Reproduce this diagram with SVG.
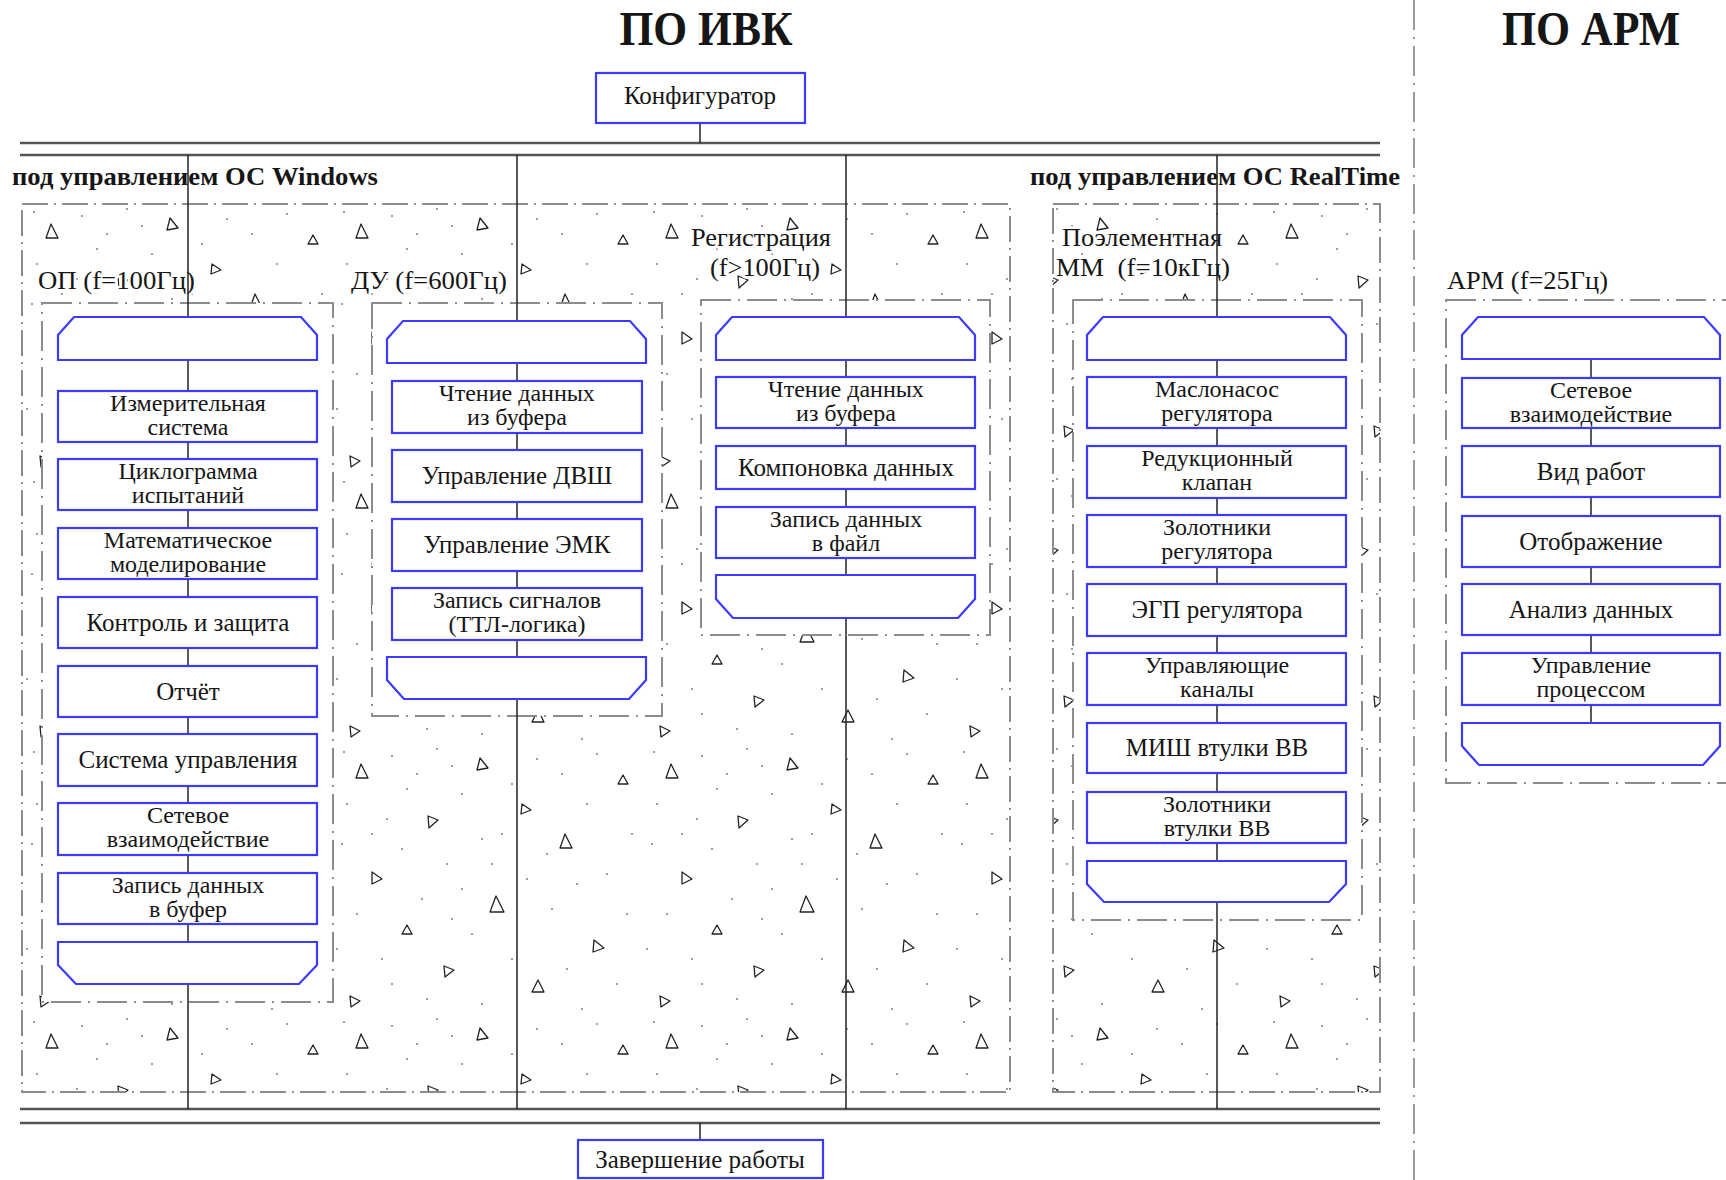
<svg xmlns="http://www.w3.org/2000/svg" width="1726" height="1180" viewBox="0 0 1726 1180">
<style>
  text { font-family: "Liberation Serif", "Times New Roman", serif; fill: #161616; }
  .lbl { font-size: 25px; text-anchor: middle; }
  .l2 { font-size: 24px; text-anchor: middle; }
  .grp { font-size: 25px; stroke: #ffffff; stroke-width: 5; paint-order: stroke; stroke-linejoin: round; }
  .os { font-size: 25px; font-weight: bold; }
  .title { font-size: 48px; font-weight: bold; text-anchor: middle; }
  .blk { fill: #ffffff; stroke: #3b3bff; stroke-width: 2.2; }
  .outer { fill: url(#concrete); stroke: #8c8c8c; stroke-width: 2; stroke-dasharray: 26 6 2 6; }
  .inner { fill: #ffffff; stroke: #8c8c8c; stroke-width: 2; stroke-dasharray: 30 7 2 7; }
  .sep { fill: none; stroke: #9a9a9a; stroke-width: 2; stroke-dasharray: 30 7 2 7; }
  .bus { stroke: #555555; stroke-width: 2.6; fill: none; }
  .conn { stroke: #222222; stroke-width: 1.5; fill: none; }
</style>
<defs>
  <pattern id="concrete" patternUnits="userSpaceOnUse" x="22" y="204" width="310" height="270">
    <g fill="none" stroke="#222" stroke-width="1.3" stroke-linejoin="round">
      <path d="M24,34 L36,34 L29,20 Z"/>
      <path d="M148,14 L156,24 L145,26 Z"/>
      <path d="M96,72 L106,76 L97,84 Z"/>
      <path d="M228,104 L240,104 L233,90 Z"/>
      <path d="M40,128 L50,135 L40,140 Z"/>
      <path d="M158,168 L172,168 L164,152 Z"/>
      <path d="M112,222 L122,226 L113,233 Z"/>
      <path d="M262,196 L272,204 L261,208 Z"/>
      <path d="M70,190 L80,190 L75,181 Z"/>
      <path d="M286,40 L296,40 L291,31 Z"/>
      <path d="M200,248 L212,248 L206,236 Z"/>
      <path d="M18,252 L28,257 L19,263 Z"/>
      <path d="M190,60 L199,66 L189,70 Z"/>
    </g>
    <g fill="#707070">
      <circle cx="12" cy="8" r="0.9"/><circle cx="60" cy="12" r="0.9"/><circle cx="85" cy="30" r="0.9"/>
      <circle cx="120" cy="22" r="0.9"/><circle cx="180" cy="40" r="0.9"/><circle cx="230" cy="30" r="0.9"/>
      <circle cx="15" cy="60" r="0.9"/><circle cx="55" cy="75" r="0.9"/><circle cx="130" cy="50" r="0.9"/>
      <circle cx="170" cy="90" r="0.9"/><circle cx="255" cy="60" r="0.9"/><circle cx="10" cy="100" r="0.9"/>
      <circle cx="70" cy="105" r="0.9"/><circle cx="115" cy="120" r="0.9"/><circle cx="150" cy="95" r="0.9"/>
      <circle cx="195" cy="135" r="0.9"/><circle cx="275" cy="130" r="0.9"/><circle cx="25" cy="170" r="0.9"/>
      <circle cx="90" cy="155" r="0.9"/><circle cx="130" cy="145" r="0.9"/><circle cx="220" cy="165" r="0.9"/>
      <circle cx="50" cy="215" r="0.9"/><circle cx="140" cy="190" r="0.9"/><circle cx="180" cy="215" r="0.9"/>
      <circle cx="235" cy="225" r="0.9"/><circle cx="95" cy="255" r="0.9"/><circle cx="5" cy="205" r="0.9"/>
      <circle cx="160" cy="120" r="0.9"/><circle cx="75" cy="45" r="0.9"/><circle cx="205" cy="15" r="0.9"/>
      <circle cx="300" cy="90" r="0.9"/><circle cx="295" cy="170" r="0.9"/><circle cx="285" cy="240" r="0.9"/>
      <circle cx="150" cy="260" r="0.9"/><circle cx="250" cy="265" r="0.9"/><circle cx="40" cy="90" r="0.9"/>
      <circle cx="105" cy="5" r="0.9"/><circle cx="265" cy="10" r="0.9"/><circle cx="215" cy="110" r="0.9"/>
      <circle cx="60" cy="240" r="0.9"/><circle cx="120" cy="175" r="0.9"/><circle cx="245" cy="140" r="0.9"/>
    </g>
  </pattern>
</defs>

<rect width="1726" height="1180" fill="#ffffff"/>

<!-- titles -->
<text class="title" x="706" y="45" textLength="173" lengthAdjust="spacingAndGlyphs">ПО ИВК</text>
<text class="title" x="1591" y="45" textLength="178" lengthAdjust="spacingAndGlyphs">ПО АРМ</text>
<line class="sep" x1="1414" y1="0" x2="1414" y2="1180"/>

<!-- OS regions -->
<g id="region-windows">
  <rect class="outer" x="22" y="204" width="988" height="888"/>
  <text class="os" x="12" y="185" textLength="366" lengthAdjust="spacingAndGlyphs">под управлением ОС Windows</text>
</g>
<g id="region-realtime">
  <rect class="outer" x="1053" y="204" width="327" height="888"/>
  <text class="os" x="1030" y="185" textLength="370" lengthAdjust="spacingAndGlyphs">под управлением ОС RealTime</text>
</g>

<!-- sub-containers -->
<g id="group-op">
  <rect class="inner" x="42" y="303" width="291" height="699"/>
  <text class="grp" x="38" y="289" textLength="157" lengthAdjust="spacingAndGlyphs">ОП (f=100Гц)</text>
</g>
<g id="group-du">
  <rect class="inner" x="372" y="303" width="290" height="413"/>
  <text class="grp" x="351" y="289" textLength="156" lengthAdjust="spacingAndGlyphs">ДУ (f=600Гц)</text>
</g>
<g id="group-reg">
  <rect class="inner" x="701" y="300" width="289" height="335"/>
  <text class="grp" x="761" y="246" text-anchor="middle" textLength="140" lengthAdjust="spacingAndGlyphs">Регистрация</text>
  <text class="grp" x="765" y="276" text-anchor="middle" textLength="110" lengthAdjust="spacingAndGlyphs">(f&gt;100Гц)</text>
</g>
<g id="group-mm">
  <rect class="inner" x="1073" y="300" width="289" height="620"/>
  <text class="grp" x="1062" y="246" textLength="160" lengthAdjust="spacingAndGlyphs">Поэлементная</text>
  <text class="grp" x="1056" y="276" textLength="174" lengthAdjust="spacingAndGlyphs" xml:space="preserve">ММ  (f=10кГц)</text>
</g>
<g id="group-arm">
  <rect class="inner" x="1446" y="300" width="300" height="483"/>
  <text class="grp" x="1447" y="289" textLength="161" lengthAdjust="spacingAndGlyphs">АРМ (f=25Гц)</text>
</g>

<!-- connectors -->
<g id="connectors">
  <line class="bus" x1="20" y1="143" x2="1380" y2="143"/>
  <line class="bus" x1="20" y1="155" x2="1380" y2="155"/>
  <line class="bus" x1="20" y1="1109" x2="1380" y2="1109"/>
  <line class="bus" x1="20" y1="1123" x2="1380" y2="1123"/>
  <line class="conn" x1="700" y1="123" x2="700" y2="143"/>
  <line class="conn" x1="700" y1="1123" x2="700" y2="1140"/>
  <line class="conn" x1="188" y1="155" x2="188" y2="1109"/>
  <line class="conn" x1="517" y1="155" x2="517" y2="1109"/>
  <line class="conn" x1="846" y1="155" x2="846" y2="1109"/>
  <line class="conn" x1="1217" y1="155" x2="1217" y2="1109"/>
  <line class="conn" x1="1591" y1="359" x2="1591" y2="723"/>
</g>

<!-- top/bottom nodes -->
<g id="node-config">
  <rect class="blk" x="596" y="73" width="209" height="50"/>
  <text class="lbl" x="700" y="104">Конфигуратор</text>
</g>
<g id="node-finish">
  <rect class="blk" x="578" y="1140" width="245" height="38"/>
  <text class="lbl" x="700" y="1168">Завершение работы</text>
</g>

<!-- ОП column -->
<g id="op-start"><path class="blk" d="M58,360 L58,335 L74,317 L301,317 L317,335 L317,360 Z"/></g>
<g id="op-1"><rect class="blk" x="58" y="391" width="259" height="51"/><text class="l2" x="188" y="411">Измерительная</text><text class="l2" x="188" y="435">система</text></g>
<g id="op-2"><rect class="blk" x="58" y="459" width="259" height="51"/><text class="l2" x="188" y="479">Циклограмма</text><text class="l2" x="188" y="503">испытаний</text></g>
<g id="op-3"><rect class="blk" x="58" y="528" width="259" height="51"/><text class="l2" x="188" y="548">Математическое</text><text class="l2" x="188" y="572">моделирование</text></g>
<g id="op-4"><rect class="blk" x="58" y="597" width="259" height="51"/><text class="lbl" x="188" y="631">Контроль и защита</text></g>
<g id="op-5"><rect class="blk" x="58" y="666" width="259" height="51"/><text class="lbl" x="188" y="700">Отчёт</text></g>
<g id="op-6"><rect class="blk" x="58" y="734" width="259" height="52"/><text class="lbl" x="188" y="768">Система управления</text></g>
<g id="op-7"><rect class="blk" x="58" y="803" width="259" height="52"/><text class="l2" x="188" y="823">Сетевое</text><text class="l2" x="188" y="847">взаимодействие</text></g>
<g id="op-8"><rect class="blk" x="58" y="873" width="259" height="51"/><text class="l2" x="188" y="893">Запись данных</text><text class="l2" x="188" y="917">в буфер</text></g>
<g id="op-end"><path class="blk" d="M58,942 L317,942 L317,965 L299,984 L76,984 L58,965 Z"/></g>

<!-- ДУ column -->
<g id="du-start"><path class="blk" d="M387,363 L387,339 L403,321 L630,321 L646,339 L646,363 Z"/></g>
<g id="du-1"><rect class="blk" x="392" y="381" width="250" height="52"/><text class="l2" x="517" y="401">Чтение данных</text><text class="l2" x="517" y="425">из буфера</text></g>
<g id="du-2"><rect class="blk" x="392" y="450" width="250" height="52"/><text class="lbl" x="517" y="484">Управление ДВШ</text></g>
<g id="du-3"><rect class="blk" x="392" y="519" width="250" height="52"/><text class="lbl" x="517" y="553">Управление ЭМК</text></g>
<g id="du-4"><rect class="blk" x="392" y="588" width="250" height="52"/><text class="l2" x="517" y="608">Запись сигналов</text><text class="l2" x="517" y="632">(ТТЛ-логика)</text></g>
<g id="du-end"><path class="blk" d="M387,657 L646,657 L646,680 L629,699 L404,699 L387,680 Z"/></g>

<!-- Регистрация column -->
<g id="reg-start"><path class="blk" d="M716,360 L716,335 L732,317 L959,317 L975,335 L975,360 Z"/></g>
<g id="reg-1"><rect class="blk" x="716" y="377" width="259" height="51"/><text class="l2" x="846" y="397">Чтение данных</text><text class="l2" x="846" y="421">из буфера</text></g>
<g id="reg-2"><rect class="blk" x="716" y="446" width="259" height="43"/><text class="lbl" x="846" y="476">Компоновка данных</text></g>
<g id="reg-3"><rect class="blk" x="716" y="507" width="259" height="51"/><text class="l2" x="846" y="527">Запись данных</text><text class="l2" x="846" y="551">в файл</text></g>
<g id="reg-end"><path class="blk" d="M716,575 L975,575 L975,599 L958,618 L733,618 L716,599 Z"/></g>

<!-- ММ column -->
<g id="mm-start"><path class="blk" d="M1087,360 L1087,335 L1103,317 L1330,317 L1346,335 L1346,360 Z"/></g>
<g id="mm-1"><rect class="blk" x="1087" y="377" width="259" height="51"/><text class="l2" x="1217" y="397">Маслонасос</text><text class="l2" x="1217" y="421">регулятора</text></g>
<g id="mm-2"><rect class="blk" x="1087" y="446" width="259" height="52"/><text class="l2" x="1217" y="466">Редукционный</text><text class="l2" x="1217" y="490">клапан</text></g>
<g id="mm-3"><rect class="blk" x="1087" y="515" width="259" height="52"/><text class="l2" x="1217" y="535">Золотники</text><text class="l2" x="1217" y="559">регулятора</text></g>
<g id="mm-4"><rect class="blk" x="1087" y="584" width="259" height="52"/><text class="lbl" x="1217" y="618">ЭГП регулятора</text></g>
<g id="mm-5"><rect class="blk" x="1087" y="653" width="259" height="52"/><text class="l2" x="1217" y="673">Управляющие</text><text class="l2" x="1217" y="697">каналы</text></g>
<g id="mm-6"><rect class="blk" x="1087" y="723" width="259" height="50"/><text class="lbl" x="1217" y="756">МИШ втулки ВВ</text></g>
<g id="mm-7"><rect class="blk" x="1087" y="792" width="259" height="51"/><text class="l2" x="1217" y="812">Золотники</text><text class="l2" x="1217" y="836">втулки ВВ</text></g>
<g id="mm-end"><path class="blk" d="M1087,861 L1346,861 L1346,884 L1329,902 L1104,902 L1087,884 Z"/></g>

<!-- АРМ column -->
<g id="arm-start"><path class="blk" d="M1462,359 L1462,335 L1478,317 L1704,317 L1720,335 L1720,359 Z"/></g>
<g id="arm-1"><rect class="blk" x="1462" y="378" width="258" height="50"/><text class="l2" x="1591" y="398">Сетевое</text><text class="l2" x="1591" y="422">взаимодействие</text></g>
<g id="arm-2"><rect class="blk" x="1462" y="446" width="258" height="51"/><text class="lbl" x="1591" y="480">Вид работ</text></g>
<g id="arm-3"><rect class="blk" x="1462" y="516" width="258" height="51"/><text class="lbl" x="1591" y="550">Отображение</text></g>
<g id="arm-4"><rect class="blk" x="1462" y="584" width="258" height="51"/><text class="lbl" x="1591" y="618">Анализ данных</text></g>
<g id="arm-5"><rect class="blk" x="1462" y="653" width="258" height="52"/><text class="l2" x="1591" y="673">Управление</text><text class="l2" x="1591" y="697">процессом</text></g>
<g id="arm-end"><path class="blk" d="M1462,723 L1720,723 L1720,746 L1703,765 L1479,765 L1462,746 Z"/></g>
</svg>
